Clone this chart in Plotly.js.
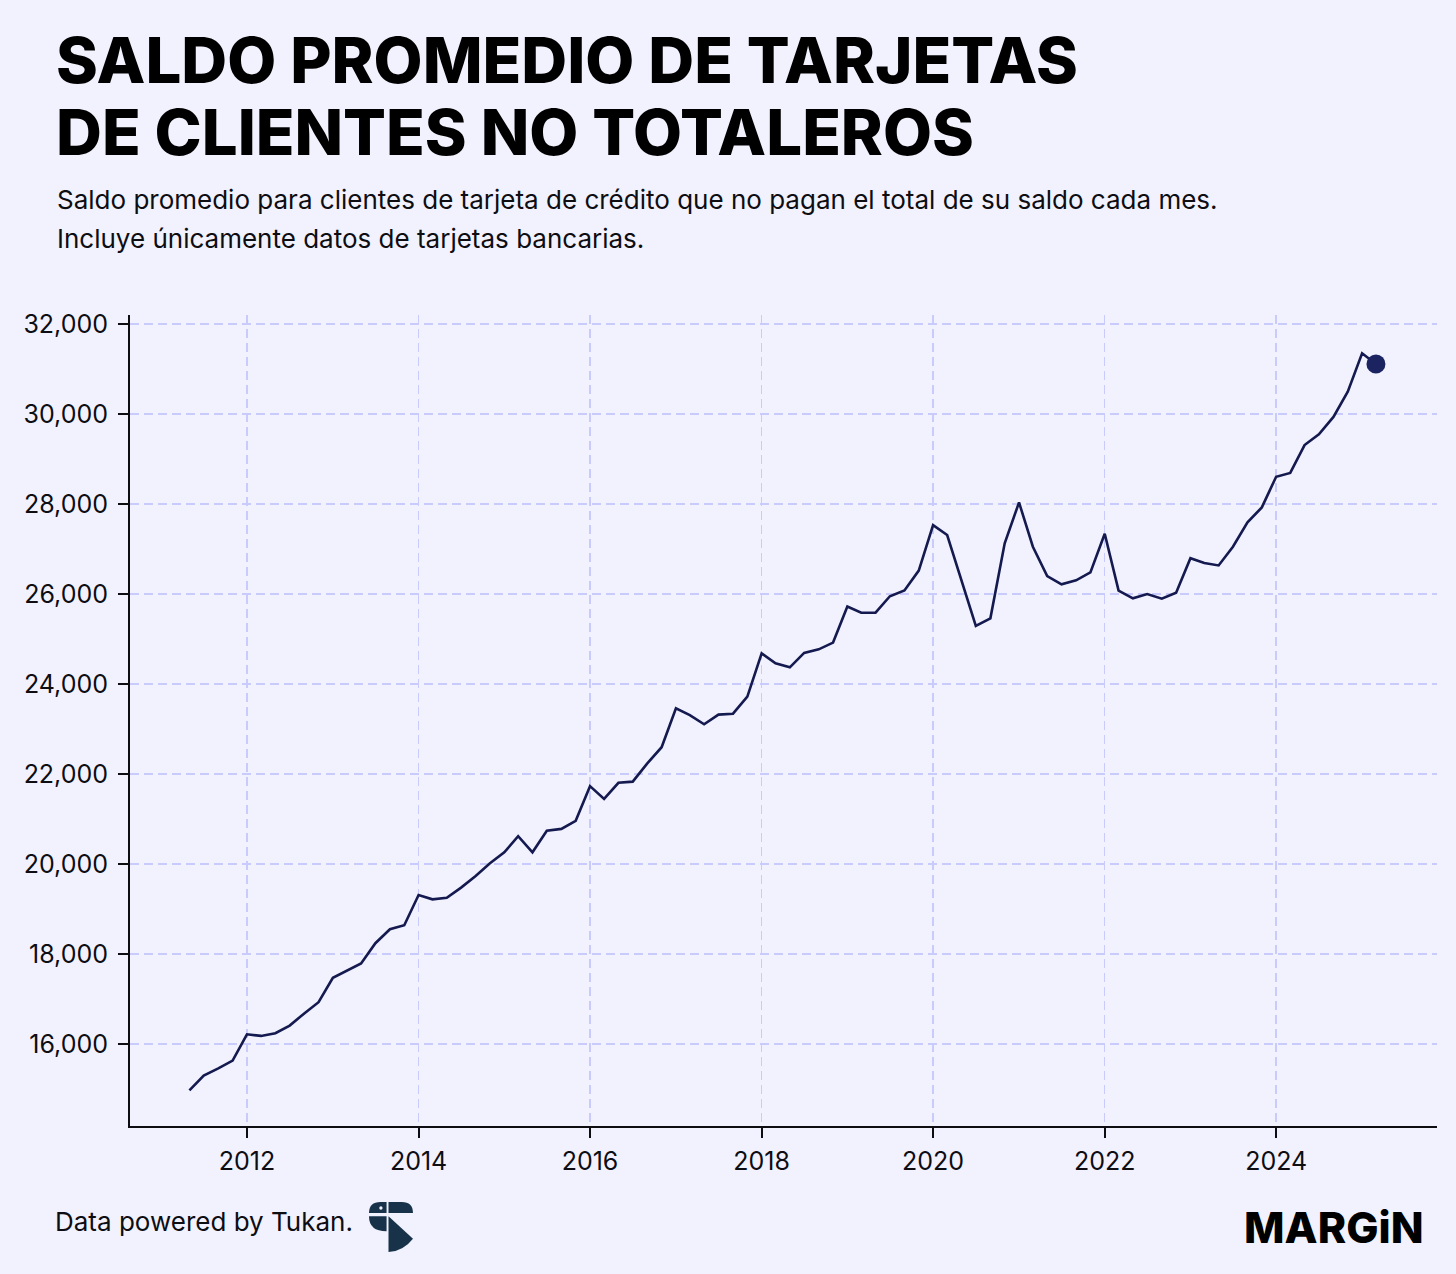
<!DOCTYPE html>
<html>
<head>
<meta charset="utf-8">
<script src="https://cdn.plot.ly/plotly-3.0.1.min.js"></script>
<style>
html,body{margin:0;padding:0;background:#f2f2fe;}
#chart{width:1456px;height:1274px;}
</style>
</head>
<body>
<div id="chart"></div>
<script>
// ---- data (bimonthly) ----
const dates = [
"2011-05-01","2011-07-01","2011-09-01","2011-11-01",
"2012-01-01","2012-03-01","2012-05-01","2012-07-01","2012-09-01","2012-11-01",
"2013-01-01","2013-03-01","2013-05-01","2013-07-01","2013-09-01","2013-11-01",
"2014-01-01","2014-03-01","2014-05-01","2014-07-01","2014-09-01","2014-11-01",
"2015-01-01","2015-03-01","2015-05-01","2015-07-01","2015-09-01","2015-11-01",
"2016-01-01","2016-03-01","2016-05-01","2016-07-01","2016-09-01","2016-11-01",
"2017-01-01","2017-03-01","2017-05-01","2017-07-01","2017-09-01","2017-11-01",
"2018-01-01","2018-03-01","2018-05-01","2018-07-01","2018-09-01","2018-11-01",
"2019-01-01","2019-03-01","2019-05-01","2019-07-01","2019-09-01","2019-11-01",
"2020-01-01","2020-03-01","2020-05-01","2020-07-01","2020-09-01","2020-11-01",
"2021-01-01","2021-03-01","2021-05-01","2021-07-01","2021-09-01","2021-11-01",
"2022-01-01","2022-03-01","2022-05-01","2022-07-01","2022-09-01","2022-11-01",
"2023-01-01","2023-03-01","2023-05-01","2023-07-01","2023-09-01","2023-11-01",
"2024-01-01","2024-03-01","2024-05-01","2024-07-01","2024-09-01","2024-11-01",
"2025-01-01","2025-03-01"
];
const saldo = [
14970,15300,15460,15630,
16215,16180,16240,16410,16680,16930,
17470,17630,17790,18240,18550,18640,
19310,19215,19250,19475,19735,20015,
20260,20620,20260,20740,20780,20960,
21730,21445,21805,21830,22235,22595,
23460,23310,23105,23320,23340,23720,
24680,24460,24370,24690,24770,24920,
25720,25585,25585,25950,26080,26520,
27530,27310,26290,25290,25460,27125,
28035,27050,26400,26215,26305,26480,
27340,26075,25905,26000,25895,26030,
26795,26690,26635,27050,27595,27925,
28605,28690,29310,29550,29935,30495,
31350,31110
];
const xTickVals = ["2012-01-01","2014-01-01","2016-01-01","2018-01-01","2020-01-01","2022-01-01","2024-01-01"];
const xTickText = ["2012","2014","2016","2018","2020","2022","2024"];
const yTickVals = [16000,18000,20000,22000,24000,26000,28000,30000,32000];
const yTickText = ["16,000","18,000","20,000","22,000","24,000","26,000","28,000","30,000","32,000"];

const titleLines = ["SALDO PROMEDIO DE TARJETAS","DE CLIENTES NO TOTALEROS"];
const subtitleLines = [
 "Saldo promedio para clientes de tarjeta de crédito que no pagan el total de su saldo cada mes.",
 "Incluye únicamente datos de tarjetas bancarias."
];
const footerText = "Data powered by Tukan.";
const brandText = "MARGiN";

// ---- layout helpers ----
const W = 1456, H = 1274;
const M = {l:130, r:19, t:315, b:148};
const PW = W - M.l - M.r, PH = H - M.t - M.b;
const px = x => (x - M.l) / PW;
const py = y => (H - M.b - y) / PH;

const FONT = "Inter, 'Noto Sans', sans-serif";
const INK = "#0d0d12";
const BG = "#f2f2fe";
const GRID = "#c8cbfb";

const lastIdx = saldo.length - 1;

const traces = [
  {
    x: dates, y: saldo, type: "scatter", mode: "lines",
    line: {color: "#141a4f", width: 2.6},
    hoverinfo: "x+y", showlegend: false
  },
  {
    x: [dates[lastIdx]], y: [saldo[lastIdx]], type: "scatter", mode: "markers",
    marker: {color: "#1b2461", size: 19},
    showlegend: false
  }
];

const logoSvg = '<svg xmlns="http://www.w3.org/2000/svg" viewBox="27 22 133 150">' +
 '<g fill="#183349">' +
 '<path d="M80,22 L80,55 L27,55 Q27,22 62,22 Z"/>' +
 '<path d="M86,22 L126,22 Q160,22 160,55 L86,55 Z"/>' +
 '<path d="M27,65 L80,65 L80,110 Q27,110 27,65 Z"/>' +
 '<path d="M86,65 L160,132 Q130,170 86,172 Z"/>' +
 '</g><circle cx="63" cy="40" r="5" fill="#f2f2fe"/></svg>';
const logoSrc = "data:image/svg+xml;base64," + btoa(logoSvg);

const annotations = [
  {text: titleLines[0], x: px(54), y: py(59), xanchor: "left", yanchor: "middle",
   font: {family: FONT, size: 63.5, weight: 800, color: "#000"}},
  {text: titleLines[1], x: px(54), y: py(132), xanchor: "left", yanchor: "middle",
   font: {family: FONT, size: 63.5, weight: 800, color: "#000"}},
  {text: subtitleLines[0], x: px(55), y: py(200), xanchor: "left", yanchor: "middle",
   font: {family: FONT, size: 26, color: INK}},
  {text: subtitleLines[1], x: px(55), y: py(238), xanchor: "left", yanchor: "middle",
   font: {family: FONT, size: 26, color: INK}},
  {text: footerText, x: px(53), y: py(1221), xanchor: "left", yanchor: "middle",
   font: {family: FONT, size: 26, color: INK}},
  {text: brandText, x: px(1426), y: py(1227), xanchor: "right", yanchor: "middle",
   font: {family: FONT, size: 43, weight: 800, color: "#000"}}
].map(a => Object.assign({xref: "paper", yref: "paper", showarrow: false}, a));

const axisCommon = {
  showgrid: true, gridcolor: GRID, gridwidth: 1.5, griddash: "9px,5px",
  showline: true, linecolor: INK, linewidth: 2,
  ticks: "outside", ticklen: 10, tickwidth: 2, tickcolor: INK,
  tickfont: {family: FONT, size: 25, color: INK},
  zeroline: false, fixedrange: true
};

const layout = {
  width: W, height: H,
  margin: M,
  paper_bgcolor: BG, plot_bgcolor: BG,
  showlegend: false,
  xaxis: Object.assign({}, axisCommon, {
    type: "date", range: ["2010-08-21", "2025-11-16"],
    tickmode: "array", tickvals: xTickVals, ticktext: xTickText,
    ticklabelstandoff: 2
  }),
  yaxis: Object.assign({}, axisCommon, {
    range: [14178, 32200],
    tickmode: "array", tickvals: yTickVals, ticktext: yTickText,
    ticklabelstandoff: 5
  }),
  annotations: annotations,
  images: [{
    source: logoSrc, xref: "paper", yref: "paper",
    x: px(369), y: py(1202), sizex: 44 / PW, sizey: 50 / PH,
    xanchor: "left", yanchor: "top", sizing: "stretch", layer: "above"
  }]
};

Plotly.newPlot("chart", traces, layout, {displayModeBar: false, staticPlot: true});
</script>
</body>
</html>
